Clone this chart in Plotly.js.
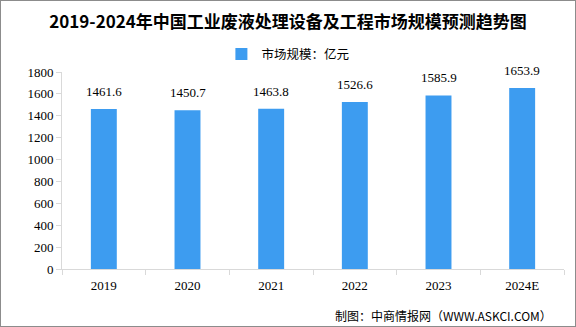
<!DOCTYPE html>
<html><head><meta charset="utf-8">
<script src="https://cdn.plot.ly/plotly-3.0.1.min.js"></script>
<style>html,body{margin:0;padding:0;background:#fff;}#c{width:576px;height:327px;box-sizing:border-box;border:1px solid #8c8c8c;}</style>
</head><body><div id="c"></div>
<script>
const categories = ['2019','2020','2021','2022','2023','2024E'];
const values = [1461.6, 1450.7, 1463.8, 1526.6, 1585.9, 1653.9];
const labels = ['1461.6','1450.7','1463.8','1526.6','1585.9','1653.9'];
const yTicks = [0,200,400,600,800,1000,1200,1400,1600,1800];
const seriesName = '市场规模：亿元';

const numFont = {family:'Liberation Serif, serif', size:13, color:'#000'};
const data = [{
  type:'bar', x:categories, y:values, name:seriesName,
  marker:{color:'#3d9cf0'}, hoverinfo:'none'
}];
const annotations = categories.map((c,i)=>({
  x:i, y:values[i], text:labels[i], showarrow:false, yanchor:'bottom', yshift:8,
  font:numFont
}));
annotations.push({xref:'paper', yref:'paper', x:0.98, y:-0.235, xanchor:'right', yanchor:'middle',
  text:'制图：中商情报网（WWW.ASKCI.COM）', showarrow:false,
  font:{family:'Noto Sans CJK SC, sans-serif', size:12, color:'#000'}});
const layout = {
  width:574, height:325,
  margin:{l:61, r:11, t:71, b:57},
  paper_bgcolor:'#fff', plot_bgcolor:'#fff',
  title:{text:'<b>2019-2024年中国工业废液处理设备及工程市场规模预测趋势图</b>', x:0.5, xanchor:'center', y:0.935, yanchor:'middle',
    font:{family:'Noto Sans CJK SC, sans-serif', size:17, color:'#000'}},
  showlegend:true,
  legend:{orientation:'h', x:0.45, xanchor:'center', y:1.09, yanchor:'middle',
    font:{family:'Noto Sans CJK SC, sans-serif', size:12.5, color:'#000'}},
  xaxis:{type:'category', range:[-0.5,5.5], autorange:false, tickson:'boundaries', ticks:'outside', ticklen:5, tickcolor:'#d9d9d9',
    showline:true, linecolor:'#d9d9d9', linewidth:1, showgrid:false, tickfont:numFont, fixedrange:true, tickangle:0, ticklabelstandoff:4},
  yaxis:{range:[0,1800], autorange:false, tickvals:yTicks, ticktext:yTicks.map(String), ticks:'outside', ticklen:5, tickcolor:'#d9d9d9',
    showline:true, linecolor:'#d9d9d9', linewidth:1, showgrid:false, zeroline:false, tickfont:numFont, fixedrange:true},
  annotations:annotations,
  bargap:0.69
};
Plotly.newPlot('c', data, layout, {displayModeBar:false, staticPlot:true});
</script></body></html>
